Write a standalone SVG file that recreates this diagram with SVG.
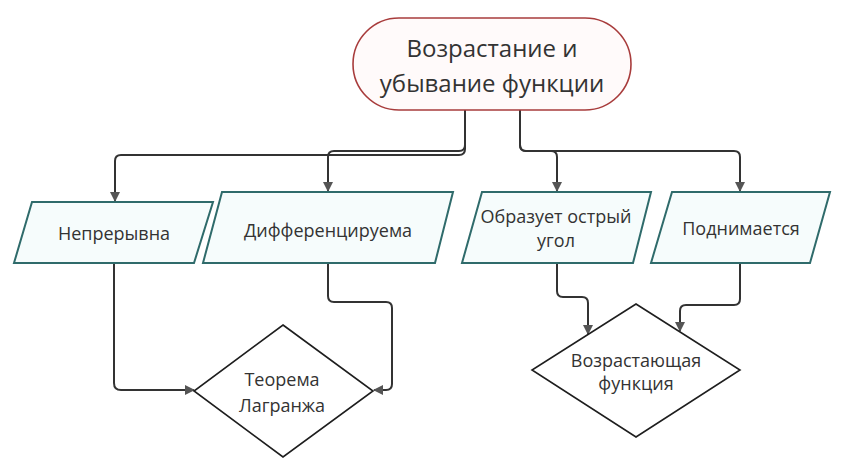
<svg xmlns="http://www.w3.org/2000/svg" width="849" height="472" viewBox="0 0 849 472">
<style>
.t{font-family:"Open Sans","Noto Sans","DejaVu Sans",sans-serif;fill:#333;text-anchor:middle}
.para{fill:#f6fcfc;stroke:#2f6b6b;stroke-width:2}
.dia{fill:#fff;stroke:#1e1e1e;stroke-width:1.6}
.term{fill:#fffafa;stroke:#a83c3c;stroke-width:1.6}
.c{fill:none;stroke:#333;stroke-width:2;marker-end:url(#ah)}
</style>
<defs>
<marker id="ah" viewBox="0 0 10 10" refX="9" refY="5" markerWidth="5" markerHeight="5" orient="auto" markerUnits="strokeWidth">
<path d="M0,0 L10,5 L0,10 Z" fill="#555"/>
</marker>
</defs>
<rect width="849" height="472" fill="#fff"/>
<g id="connectors">
<path class="c" d="M465,110 V149 Q465,155 459,155 H121 Q115,155 115,161 V201"/>
<path class="c" d="M465,110 V145 Q465,151 459,151 H334 Q328,151 328,157 V191"/>
<path class="c" d="M520,110 V145 Q520,151 526,151 H551 Q557,151 557,157 V191"/>
<path class="c" d="M520,110 V145 Q520,151 526,151 H734 Q740,151 740,157 V191"/>
<path class="c" d="M114,263 V383 Q114,390 121,390 H194"/>
<path class="c" d="M328,263 V296 Q328,302 334,302 H386 Q392,302 392,308 V384 Q392,390 386,390 H374"/>
<path class="c" d="M557,263 V291 Q557,297 563,297 H582 Q588,297 588,303 V334"/>
<path class="c" d="M740,263 V299 Q740,305 734,305 H686 Q680,305 680,311 V331"/>
</g>
<g id="n-title">
<rect class="term" x="353" y="18" width="278" height="92" rx="46" ry="46"/>
<text class="t" x="492" y="57" font-size="24">Возрастание и</text>
<text class="t" x="492" y="92" font-size="24">убывание функции</text>
</g>
<g id="n-nepr">
<polygon class="para" points="32,202 213,202 194,263 14,263"/>
<text class="t" x="114" y="240" font-size="18">Непрерывна</text>
</g>
<g id="n-diff">
<polygon class="para" points="222,192 453,192 435,263 203,263"/>
<text class="t" x="328" y="237" font-size="18">Дифференцируема</text>
</g>
<g id="n-obr">
<polygon class="para" points="482,192 651,192 633,263 462,263"/>
<text class="t" x="556" y="223" font-size="18">Образует острый</text>
<text class="t" x="556" y="247" font-size="18">угол</text>
</g>
<g id="n-podn">
<polygon class="para" points="672,192 830,192 810,263 651,263"/>
<text class="t" x="741" y="235" font-size="18">Поднимается</text>
</g>
<g id="n-lagr">
<polygon class="dia" points="283,325 373,391 283,457 194,391"/>
<text class="t" x="282" y="386" font-size="18">Теорема</text>
<text class="t" x="282" y="412" font-size="18">Лагранжа</text>
</g>
<g id="n-vozr">
<polygon class="dia" points="636,304 740,370 636,437 532,370"/>
<text class="t" x="636" y="367" font-size="18">Возрастающая</text>
<text class="t" x="636" y="390" font-size="18">функция</text>
</g>
</svg>
